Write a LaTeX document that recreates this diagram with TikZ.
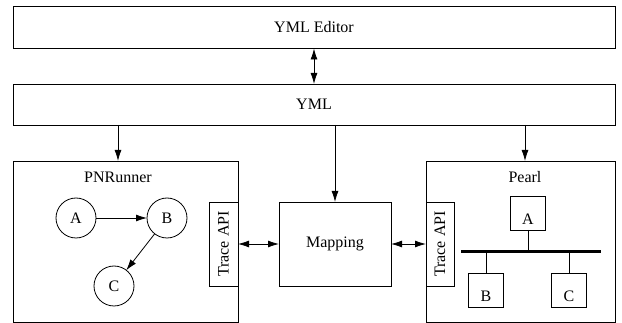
\documentclass[tikz,border=0pt]{standalone}
\usepackage{fontspec}
\setmainfont{Liberation Serif}
\usetikzlibrary{arrows.meta}

\tikzset{
  box/.style={draw, inner sep=0pt, outer sep=0pt},
  place/.style={draw, circle, minimum size=40pt, inner sep=0pt, outer sep=0pt},
  unit/.style={box, minimum width=35pt, minimum height=34pt, text height=23pt, text depth=0pt}
}

\begin{document}
\begin{tikzpicture}[x=1pt,y=-1pt, line width=0.8pt,
  font=\fontsize{16}{19}\selectfont, >={Latex[length=11pt,width=7pt]}]
\useasboundingbox (0,0) rectangle (622,323);

% the two layers on top
\node[box, minimum width=602pt, minimum height=42pt] (editor) at (314,27.5) {YML Editor};
\node[box, minimum width=602pt, minimum height=41pt] (yml) at (314,104.5) {YML};
\draw[<->] (editor) -- (yml);

% PNRunner with its net
\node[box, minimum width=225pt, minimum height=161pt] (runner) at (125.5,241.5) {};
\node (runnername) at (118,177) {PNRunner};
\node[place] (a) at (76,218) {A};
\node[place] (b) at (167,218) {B};
\node[place] (c) at (114,286) {C};
\draw[->] (a) -- (b);
\draw[->] (b) -- (c);
\node[box, rotate=90, minimum width=84pt, minimum height=29pt] (traceleft) at (223.5,244) {Trace API};

% Mapping in the middle
\node[box, minimum width=112pt, minimum height=84pt] (mapping) at (335,244) {Mapping};

% Pearl with its bus
\node[box, minimum width=189pt, minimum height=161pt] (pearl) at (520.5,241.5) {};
\node (pearlname) at (525,177) {Pearl};
\node[box, rotate=90, minimum width=84pt, minimum height=28pt] (traceright) at (440,244) {Trace API};
\coordinate (busw) at (461,252);
\coordinate (buse) at (601,252);
\draw[line width=3pt] (busw) -- (buse);
\node[unit] (pa) at (528,213) {A};
\node[unit] (pb) at (486,290) {B};
\node[unit] (pc) at (569,290) {C};
\draw (pa) -- (pa |- busw);
\draw (pb) -- (pb |- busw);
\draw (pc) -- (pc |- busw);

% arrows out of YML and to Mapping
\draw[->] (yml.south -| runnername) -- (runnername |- runner.north);
\draw[->] (yml.south -| mapping) -- (mapping);
\draw[->] (yml.south -| pearlname) -- (pearlname |- pearl.north);
\draw[<->] (traceleft) -- (mapping);
\draw[<->] (mapping) -- (traceright);
\end{tikzpicture}
\end{document}
